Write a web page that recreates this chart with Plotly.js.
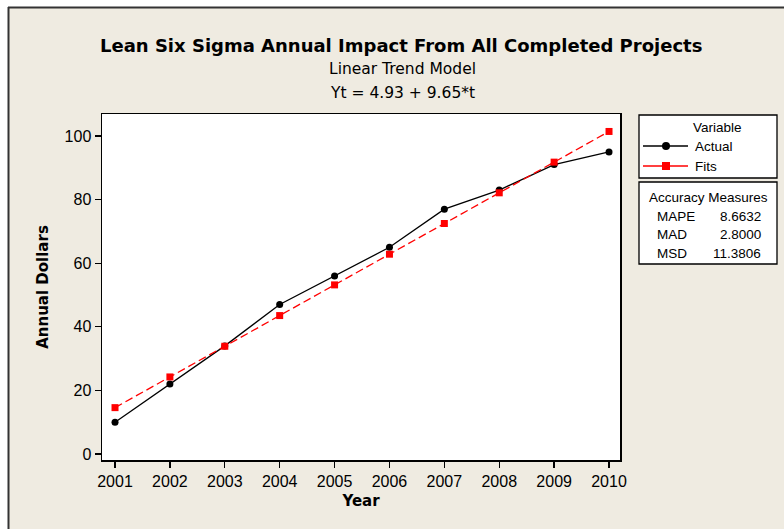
<!DOCTYPE html>
<html>
<head>
<meta charset="utf-8">
<script src="https://cdn.plot.ly/plotly-3.0.1.min.js"></script>
<style>html,body{margin:0;padding:0;background:#fff;}#chart{width:784px;height:529px;}</style>
</head>
<body>
<div id="chart"></div>
<script>
const years = [2001, 2002, 2003, 2004, 2005, 2006, 2007, 2008, 2009, 2010];
const actual = [10, 22, 34, 47, 56, 65, 77, 83, 91, 95];
const fits = [14.58, 24.23, 33.88, 43.53, 53.18, 62.83, 72.48, 82.13, 91.78, 101.43];
const yTicks = [0, 20, 40, 60, 80, 100];
const accLabels = ["MAPE", "MAD", "MSD"];
const accValues = ["8.6632", "2.8000", "11.3806"];

const W = 784, H = 529;
const L = 102, R = 620, T = 114, B = 460;
const px = x => (x - L) / (R - L);
const py = y => (B - y) / (B - T);
const FONT = "Liberation Sans, Arial, sans-serif";
const DJ = "DejaVu Sans, sans-serif";

const traces = [
  {x: years, y: actual, type: "scatter", mode: "lines+markers", name: "Actual",
   line: {color: "#000000", width: 1.3}, marker: {symbol: "circle", size: 7, color: "#000000"}},
  {x: years, y: fits, type: "scatter", mode: "lines+markers", name: "Fits",
   line: {color: "#ff0000", width: 1.3, dash: "8px,4px"}, marker: {symbol: "square", size: 7, color: "#ff0000"}}
];

const shapes = [
  {type: "rect", xref: "paper", yref: "paper", x0: px(0), x1: px(W), y0: py(7), y1: py(0), fillcolor: "#ffffff", line: {width: 0}},
  {type: "rect", xref: "paper", yref: "paper", x0: px(0), x1: px(8), y0: py(H), y1: py(0), fillcolor: "#ffffff", line: {width: 0}},
  {type: "line", xref: "paper", yref: "paper", x0: px(8), x1: px(W), y0: py(7.5), y1: py(7.5), line: {color: "#333333", width: 2}},
  {type: "line", xref: "paper", yref: "paper", x0: px(8.5), x1: px(8.5), y0: py(7), y1: py(H), line: {color: "#333333", width: 2}},
  {type: "rect", xref: "paper", yref: "paper", x0: px(639), x1: px(777), y0: py(178), y1: py(115), fillcolor: "#ffffff", line: {color: "#000000", width: 1.3}},
  {type: "line", xref: "paper", yref: "paper", x0: px(643), x1: px(688), y0: py(146), y1: py(146), line: {color: "#000000", width: 1.3}},
  {type: "circle", xref: "paper", yref: "paper", x0: px(662), x1: px(670), y0: py(150), y1: py(142), fillcolor: "#000000", line: {color: "#000000", width: 0}},
  {type: "line", xref: "paper", yref: "paper", x0: px(643), x1: px(688), y0: py(166), y1: py(166), line: {color: "#ff0000", width: 1.3}},
  {type: "rect", xref: "paper", yref: "paper", x0: px(662), x1: px(670), y0: py(170), y1: py(162), fillcolor: "#ff0000", line: {color: "#ff0000", width: 0}},
  {type: "rect", xref: "paper", yref: "paper", x0: px(639), x1: px(777), y0: py(264), y1: py(182), fillcolor: "#ffffff", line: {color: "#000000", width: 1.3}}
];

const ann = (text, x, y, opts) => Object.assign({
  text: text, xref: "paper", yref: "paper", x: px(x), y: py(y), showarrow: false,
  xanchor: "center", yanchor: "middle", font: {family: FONT, size: 13.5, color: "#000000"}
}, opts || {});

const annotations = [
  ann("<b>Lean Six Sigma Annual Impact From All Completed Projects</b>", 401, 45, {font: {family: DJ, size: 18, color: "#000"}}),
  ann("Linear Trend Model", 402, 69, {font: {family: DJ, size: 15.5, color: "#000"}}),
  ann("Yt = 4.93 + 9.65*t", 402, 93, {font: {family: DJ, size: 15.5, color: "#000"}}),
  ann("Variable", 717, 127),
  ann("Actual", 693, 146, {xanchor: "left"}),
  ann("Fits", 693, 166, {xanchor: "left"}),
  ann("Accuracy Measures", 708, 197)
];
accLabels.forEach((lab, i) => {
  const y = 216 + i * 18.5;
  annotations.push(ann(lab, 655, y, {xanchor: "left"}));
  annotations.push(ann(accValues[i], 763, y, {xanchor: "right"}));
});

const layout = {
  width: W, height: H,
  margin: {l: L, r: W - R, t: T, b: H - B, pad: 0},
  paper_bgcolor: "#EFEBE1",
  plot_bgcolor: "#ffffff",
  showlegend: false,
  font: {family: FONT, size: 16, color: "#000000"},
  xaxis: {
    range: [2000.763, 2010.2], tickvals: years, ticktext: years.map(String),
    ticks: "outside", ticklen: 6, tickwidth: 1.3, tickcolor: "#000",
    showgrid: false, zeroline: false, showline: true, linecolor: "#000", linewidth: 1.5, mirror: true,
    tickfont: {family: FONT, size: 16, color: "#000"},
    title: {text: "<b>Year</b>", font: {family: DJ, size: 15, color: "#000"}, standoff: 7}
  },
  yaxis: {
    range: [-1.89, 106.92], tickvals: yTicks,
    ticks: "outside", ticklen: 6, tickwidth: 1.3, tickcolor: "#000",
    showgrid: false, zeroline: false, showline: true, linecolor: "#000", linewidth: 1.5, mirror: true,
    tickfont: {family: FONT, size: 16, color: "#000"},
    title: {text: "<b>Annual Dollars</b>", font: {family: DJ, size: 15, color: "#000"}, standoff: 12}
  },
  shapes: shapes,
  annotations: annotations
};

Plotly.newPlot("chart", traces, layout, {displayModeBar: false, staticPlot: true});
</script>
</body>
</html>
